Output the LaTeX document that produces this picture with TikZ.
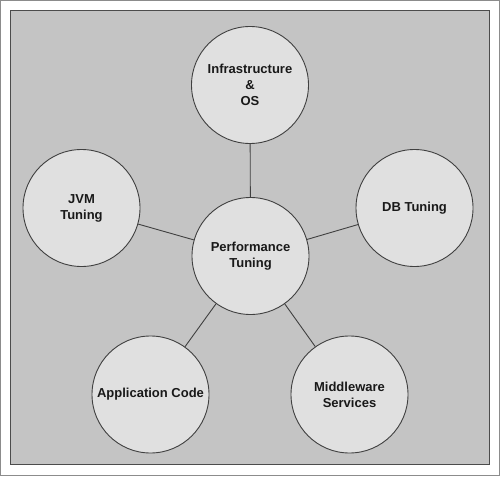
\documentclass[tikz,border=0pt]{standalone}
\usepackage{fontspec}
\setmainfont{Liberation Sans}
\begin{document}
\begin{tikzpicture}[x=1pt,y=-1pt,
  topic/.style={circle, draw=black!75, line width=0.9pt, fill=circfill,
    minimum size=117pt, inner sep=0pt, align=center,
    font=\fontsize{13}{16}\selectfont\bfseries, text=black!90},
  link/.style={draw=black!75, line width=0.9pt}]
\definecolor{circfill}{HTML}{E0E0E0}
\definecolor{bgfill}{HTML}{C4C4C4}
\useasboundingbox (0,0) rectangle (500,476);
\draw[black!45, line width=0.8pt] (0.8,0.8) rectangle (499.2,475.2);
\draw[fill=bgfill, draw=black!70, line width=1.3pt] (10.5,10.5) rectangle (489.5,464.5);
\node[topic] (perf) at (250.5,256) {Performance\\Tuning};
\node[topic] (infra) at (250,85) {Infrastructure\\\&\\OS};
\node[topic] (jvm) at (81.5,208) {JVM\\Tuning};
\node[topic] (db) at (414.5,208) {DB Tuning};
\node[topic] (app) at (150.5,394.5) {Application Code};
\node[topic] (mid) at (349.5,394.5) {Middleware\\Services};
\draw[link] (perf) -- (infra);
\draw[link] (perf) -- (jvm);
\draw[link] (perf) -- (db);
\draw[link] (perf) -- (app);
\draw[link] (perf) -- (mid);
\end{tikzpicture}
\end{document}
